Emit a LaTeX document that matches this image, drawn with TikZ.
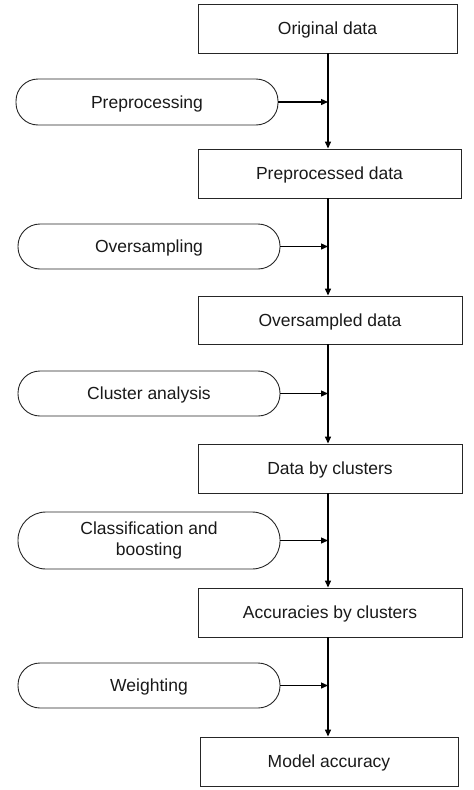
\documentclass[tikz,border=0pt]{standalone}
\usepackage{fontspec}
\setmainfont{Liberation Sans}
\usetikzlibrary{arrows.meta}
\begin{document}
\begin{tikzpicture}[x=1pt,y=-1pt,
  databox/.style={draw=black!85,line width=0.9pt,minimum width=#1,minimum height=49pt,inner sep=0pt,text depth=0pt,font=\fontsize{17.5}{21}\selectfont,text=black!90},
  pill/.style={draw=black!85,line width=0.9pt,rounded corners=22pt,minimum width=262pt,inner sep=0pt,align=center,font=\fontsize{17.5}{21}\selectfont,text=black!90},
  flow/.style={line width=1.3pt,-{Triangle[length=7pt,width=6pt]}}]
\useasboundingbox (0,0) rectangle (474,790);
% boxes
\node[databox=259pt] (o) at (327.5,28.5) {Original data};
\node[databox=263pt] (p) at (329.5,173.5) {Preprocessed data};
\node[databox=264pt,minimum height=48pt] (s) at (330,320) {Oversampled data};
\node[databox=264pt] (c) at (330,468.5) {Data by clusters};
\node[databox=264pt] (a) at (330,612.5) {Accuracies by clusters};
\node[databox=258pt] (m) at (329,761.5) {Model accuracy};
% process pills
\node[pill,minimum height=46pt,text depth=0pt] (pre) at (147,102) {Preprocessing};
\node[pill,minimum height=45pt,text depth=0pt] (ovs) at (149,246.5) {Oversampling};
\node[pill,minimum height=45pt,text depth=0pt] (cla) at (149,393.5) {Cluster analysis};
\node[pill,minimum height=57pt,rounded corners=28pt] (cab) at (149,540.5) {Classification and\\boosting};
\node[pill,minimum height=45pt,text depth=0pt] (wei) at (149,685.5) {Weighting};
% vertical flow
\coordinate (x) at (328,0);
\draw[flow] (o.south -| x) -- (p.north -| x);
\draw[flow] (p.south -| x) -- (s.north -| x);
\draw[flow] (s.south -| x) -- (c.north -| x);
\draw[flow] (c.south -| x) -- (a.north -| x);
\draw[flow] (a.south -| x) -- (m.north -| x);
% side inputs
\draw[flow] (pre.east) -- (pre.east -| x);
\draw[flow] (ovs.east) -- (ovs.east -| x);
\draw[flow] (cla.east) -- (cla.east -| x);
\draw[flow] (cab.east) -- (cab.east -| x);
\draw[flow] (wei.east) -- (wei.east -| x);
\end{tikzpicture}
\end{document}
